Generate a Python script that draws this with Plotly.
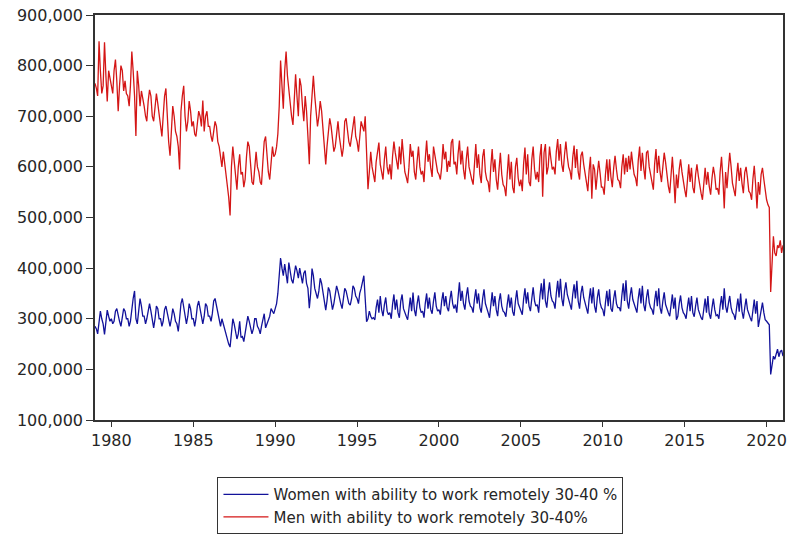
import pandas as pd
import plotly.graph_objects as go

# Monthly values, thousands of persons, Jan 1979 .. Jan 2021
women_k = [
    285, 280, 270, 300, 315, 300, 290, 269, 300, 317, 305, 295,  # 1979
    300, 290, 295, 315, 320, 305, 295, 285, 300, 320, 315, 300,  # 1980
    300, 285, 295, 320, 340, 355, 300, 290, 310, 340, 325, 305,  # 1981
    305, 290, 300, 320, 330, 315, 300, 282, 300, 325, 320, 300,  # 1982
    300, 285, 295, 318, 325, 310, 295, 285, 300, 320, 310, 295,  # 1983
    290, 275, 300, 330, 340, 320, 305, 290, 305, 330, 320, 300,  # 1984
    300, 285, 300, 325, 335, 320, 300, 290, 305, 330, 325, 305,  # 1985
    305, 295, 310, 335, 340, 325, 310, 295, 285, 300, 290, 275,  # 1986
    270, 255, 250, 244, 275, 300, 290, 275, 260, 270, 295, 263,  # 1987
    265, 255, 270, 290, 305, 295, 280, 270, 280, 300, 300, 285,  # 1988
    280, 270, 285, 300, 310, 282, 290, 295, 305, 320, 315, 310,  # 1989
    320, 330, 350, 385, 420, 400, 385, 408, 390, 370, 411, 395,  # 1990
    377, 370, 390, 405, 395, 380, 400, 385, 370, 390, 395, 370,  # 1991
    360, 321, 350, 399, 385, 360, 350, 340, 355, 380, 370, 350,  # 1992
    340, 317, 335, 362, 355, 340, 318, 330, 345, 365, 355, 340,  # 1993
    330, 320, 335, 360, 355, 345, 330, 327, 340, 365, 360, 345,  # 1994
    340, 330, 350, 360, 370, 385, 340, 294, 300, 315, 305, 300,  # 1995
    302, 298, 322, 338, 312, 345, 318, 305, 328, 342, 315, 308,  # 1996
    312, 300, 328, 348, 318, 338, 312, 302, 335, 348, 320, 310,  # 1997
    305, 298, 325, 342, 315, 352, 318, 305, 330, 346, 322, 312,  # 1998
    315, 302, 330, 350, 320, 342, 318, 310, 335, 352, 325, 315,  # 1999
    318, 308, 335, 352, 325, 345, 322, 315, 338, 355, 330, 320,  # 2000
    328, 312, 342, 372, 335, 355, 330, 318, 345, 362, 335, 325,  # 2001
    322, 312, 338, 358, 330, 350, 322, 312, 340, 358, 330, 318,  # 2002
    312, 302, 332, 352, 325, 345, 318, 305, 335, 350, 325, 315,  # 2003
    312, 304, 328, 348, 322, 342, 314, 306, 335, 356, 330, 322,  # 2004
    318, 308, 338, 360, 330, 352, 325, 315, 340, 362, 335, 325,  # 2005
    328, 312, 345, 370, 338, 379, 335, 322, 350, 372, 345, 335,  # 2006
    332, 320, 350, 375, 342, 379, 340, 325, 355, 372, 348, 338,  # 2007
    332, 318, 348, 368, 340, 375, 335, 320, 350, 365, 342, 332,  # 2008
    322, 310, 338, 360, 330, 362, 325, 312, 342, 358, 332, 322,  # 2009
    318, 305, 332, 355, 325, 358, 320, 314, 340, 356, 330, 322,  # 2010
    322, 315, 345, 370, 335, 376, 335, 320, 345, 362, 338, 328,  # 2011
    322, 312, 340, 360, 330, 365, 328, 315, 342, 358, 332, 322,  # 2012
    318, 308, 335, 355, 325, 360, 322, 310, 335, 352, 328, 318,  # 2013
    312, 305, 328, 348, 320, 342, 298, 305, 330, 346, 322, 312,  # 2014
    308, 300, 322, 342, 315, 345, 312, 304, 325, 342, 318, 308,  # 2015
    302, 298, 318, 340, 312, 345, 310, 300, 322, 340, 318, 306,  # 2016
    308, 300, 325, 345, 318, 360, 325, 312, 330, 345, 322, 312,  # 2017
    308, 298, 320, 340, 314, 350, 315, 300, 322, 340, 318, 308,  # 2018
    302, 295, 315, 338, 310, 335, 284, 300, 318, 332, 312, 298,  # 2019
    295, 290, 288, 190, 205, 226, 220, 230, 240, 225, 235, 238,  # 2020
    226,                                                         # 2021
]

men_k = [
    765, 755, 740, 848, 790, 745, 760, 846, 780, 729, 790, 775,  # 1979
    760, 745, 790, 812, 770, 710, 760, 800, 790, 750, 770, 745,  # 1980
    740, 720, 760, 828, 790, 740, 661, 790, 760, 720, 750, 730,  # 1981
    720, 700, 690, 730, 752, 740, 700, 690, 715, 745, 725, 705,  # 1982
    690, 660, 700, 740, 755, 700, 650, 622, 690, 720, 700, 670,  # 1983
    660, 640, 595, 710, 740, 760, 700, 670, 690, 730, 710, 680,  # 1984
    690, 665, 660, 690, 710, 700, 680, 731, 670, 700, 710, 680,  # 1985
    680, 660, 650, 670, 690, 680, 650, 640, 620, 600, 630, 610,  # 1986
    590, 560, 540, 504, 600, 640, 610, 570, 555, 600, 625, 585,  # 1987
    590, 560, 575, 620, 650, 640, 600, 570, 565, 600, 630, 600,  # 1988
    590, 570, 565, 610, 650, 660, 620, 590, 575, 610, 640, 620,  # 1989
    625, 640, 665, 720, 810, 760, 715, 790, 828, 780, 750, 720,  # 1990
    700, 683, 720, 783, 740, 700, 775, 760, 720, 690, 740, 710,  # 1991
    660, 605, 700, 742, 780, 740, 700, 680, 700, 730, 710, 680,  # 1992
    650, 605, 640, 675, 696, 680, 650, 630, 640, 670, 690, 660,  # 1993
    640, 620, 638, 690, 696, 670, 650, 640, 660, 680, 700, 660,  # 1994
    650, 630, 660, 690, 680, 670, 700, 640, 556, 590, 630, 600,  # 1995
    585, 570, 610, 632, 648, 605, 590, 575, 615, 640, 600, 585,  # 1996
    605, 575, 620, 650, 628, 610, 595, 640, 605, 655, 615, 590,  # 1997
    580, 568, 598, 645, 620, 632, 590, 575, 612, 640, 600, 585,  # 1998
    592, 570, 615, 652, 610, 625, 598, 580, 640, 622, 605, 590,  # 1999
    585, 575, 600, 645, 615, 630, 590, 612, 600, 648, 655, 605,  # 2000
    610, 585, 625, 652, 605, 632, 595, 575, 615, 640, 600, 585,  # 2001
    575, 565, 610, 645, 598, 625, 585, 568, 620, 635, 590, 575,  # 2002
    570, 550, 600, 635, 590, 615, 575, 555, 595, 628, 585, 565,  # 2003
    560, 542, 585, 625, 575, 610, 560, 548, 600, 618, 578, 562,  # 2004
    575, 552, 605, 638, 585, 625, 570, 562, 615, 640, 595, 575,  # 2005
    590, 570, 620, 645, 541, 628, 645, 585, 600, 640, 615, 595,  # 2006
    600, 585, 630, 655, 612, 645, 605, 590, 625, 650, 620, 600,  # 2007
    592, 575, 618, 642, 598, 635, 590, 575, 622, 630, 605, 585,  # 2008
    570, 552, 592, 620, 537, 605, 595, 555, 585, 612, 588, 560,  # 2009
    560, 545, 585, 615, 572, 615, 580, 560, 598, 622, 595, 575,  # 2010
    572, 558, 600, 625, 585, 618, 590, 622, 595, 630, 605, 585,  # 2011
    578, 562, 612, 640, 592, 628, 598, 575, 628, 632, 600, 582,  # 2012
    572, 555, 605, 635, 588, 622, 590, 570, 600, 628, 609, 580,  # 2013
    562, 548, 590, 620, 580, 528, 585, 558, 595, 615, 590, 568,  # 2014
    555, 540, 580, 605, 570, 598, 560, 548, 585, 605, 582, 560,  # 2015
    548, 535, 572, 598, 565, 590, 562, 545, 578, 600, 583, 555,  # 2016
    558, 545, 590, 620, 578, 518, 590, 558, 595, 628, 600, 568,  # 2017
    555, 542, 580, 608, 572, 598, 568, 548, 589, 600, 578, 552,  # 2018
    548, 535, 575, 602, 565, 518, 570, 545, 585, 598, 575, 550,  # 2019
    535, 525, 520, 353, 410, 463, 430, 424, 445, 440, 455, 430,  # 2020
    445,                                                         # 2021
]

tick_years = [1980, 1985, 1990, 1995, 2000, 2005, 2010, 2015, 2020]
women_name = "Women with ability to work remotely 30-40 %"
men_name = "Men with ability to work remotely 30-40%"

dates_w = pd.date_range("1979-01-01", periods=len(women_k), freq="MS")
dates_m = pd.date_range("1979-01-01", periods=len(men_k), freq="MS")

fig = go.Figure()
fig.add_trace(go.Scatter(x=dates_w, y=[v * 1000 for v in women_k], mode="lines",
                         line=dict(color="#12129a", width=1.3), name=women_name))
fig.add_trace(go.Scatter(x=dates_m, y=[v * 1000 for v in men_k], mode="lines",
                         line=dict(color="#d41616", width=1.3), name=men_name))

tick_font = dict(family="DejaVu Sans, Arial, sans-serif", size=16, color="#262626")
legend_font = dict(family="DejaVu Sans, Arial, sans-serif", size=15, color="#262626")

fig.update_layout(
    width=793, height=540,
    margin=dict(l=95, r=6, t=15, b=113),
    paper_bgcolor="white", plot_bgcolor="white",
    font=tick_font,
    showlegend=True,
    legend=dict(x=0.178, y=-0.141, xanchor="left", yanchor="top",
                bordercolor="#333333", borderwidth=1, bgcolor="white",
                font=legend_font, tracegroupgap=0, itemwidth=45),
    xaxis=dict(type="date", range=["1979-01-01", "2021-01-01"],
               tickvals=[pd.Timestamp(f"{y}-01-01") for y in tick_years],
               ticktext=[str(y) for y in tick_years],
               showline=True, mirror=True, linecolor="#333333", linewidth=1.5,
               ticks="outside", ticklen=5, tickcolor="#333333",
               showgrid=False, zeroline=False, tickfont=tick_font),
    yaxis=dict(range=[100000, 900000], dtick=100000, tickformat=",d",
               showline=True, mirror=True, linecolor="#333333", linewidth=1.5,
               ticks="outside", ticklen=7, tickcolor="#333333",
               showgrid=False, zeroline=False, tickfont=tick_font),
)

fig.write_html("out.html")
